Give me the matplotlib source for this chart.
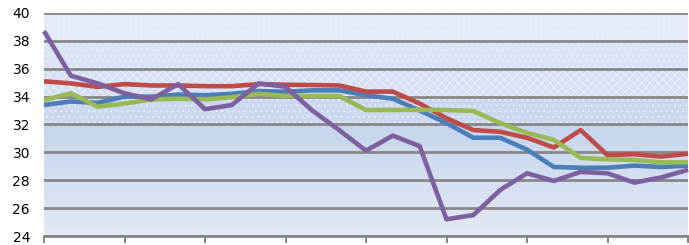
import matplotlib
matplotlib.use("Agg")
import matplotlib.pyplot as plt
import numpy as np

x = list(range(25))
blue = [33.4, 33.65, 33.55, 34.0, 34.0, 34.15, 34.1, 34.2, 34.4, 34.35, 34.45, 34.45, 34.1,
        33.85, 33.0, 32.1, 31.05, 31.05, 30.2, 28.95, 28.9, 28.9, 29.05, 28.95, 29.05]
red = [35.1, 34.95, 34.7, 34.9, 34.8, 34.8, 34.75, 34.75, 34.9, 34.85, 34.83, 34.8, 34.36,
       34.36, 33.5, 32.45, 31.6, 31.48, 31.05, 30.35, 31.6, 29.8, 29.87, 29.7, 29.9]
green = [33.75, 34.24, 33.28, 33.5, 33.8, 33.85, 33.8, 33.95, 34.2, 34.05, 34.05, 34.05, 33.04,
         33.04, 33.05, 33.04, 32.97, 32.1, 31.4, 30.9, 29.6, 29.5, 29.46, 29.29, 29.29]
purple = [38.7, 35.5, 34.95, 34.24, 33.8, 34.9, 33.1, 33.4, 34.95, 34.7, 33.0, 31.6, 30.12,
          31.2, 30.45, 25.2, 25.5, 27.3, 28.5, 27.95, 28.6, 28.5, 27.83, 28.2, 28.75]
yticks = [24, 26, 28, 30, 32, 34, 36, 38, 40]
xticks = [0, 3, 6, 9, 12, 15, 18, 21, 24]

plt.rcParams['hatch.linewidth'] = 0.7
fig = plt.figure(figsize=(6.89, 2.45), dpi=100)
ax = fig.add_axes([44/689, 9/245, 644/689, 223/245])
ax.set_xlim(0, 24)
ax.set_ylim(24, 40)

# gradient lower region
grad = np.linspace(0, 1, 100).reshape(-1, 1)
c_bot = np.array([0.89, 0.915, 0.96])
c_top = np.array([0.775, 0.835, 0.93])
img = c_bot + grad[..., None] * (c_top - c_bot)
ax.imshow(img, extent=[0, 24, 24, 32], origin='lower', aspect='auto', zorder=0)

bands = [(32, 34, '#cbd7ef', '...'), (34, 36, '#d4def2', 'xxxx'),
         (36, 38, '#dbe4f5', '...'), (38, 40, '#e2e9f7', '+++')]
for lo, hi, fc, h in bands:
    ax.axhspan(lo, hi, facecolor=fc, edgecolor='none', zorder=0.1)
    ax.axhspan(lo, hi, facecolor='none', edgecolor='#e9eef9', hatch=h, lw=0, zorder=0.2)

ax.set_yticks(yticks)
ax.set_xticks(xticks)
ax.yaxis.grid(True, color='#878787', lw=2.0, zorder=1)
ax.set_axisbelow(False)
ax.tick_params(axis='y', length=0, pad=10, labelsize=10, labelcolor='black')
ax.tick_params(axis='x', length=5, width=1.5, color='#878787', labelbottom=False, direction='out')
for s in ['top', 'right', 'left']:
    ax.spines[s].set_visible(False)
ax.spines['bottom'].set_color('#878787')
ax.spines['bottom'].set_linewidth(2.0)

for data, col in [(blue, '#4a7ebb'), (red, '#be4b48'), (green, '#98b954'), (purple, '#7d60a0')]:
    ax.plot(x, data, color=col, lw=3.3, solid_joinstyle='round', solid_capstyle='butt',
            zorder=3, clip_on=False)

fig.savefig('out.png', dpi=100)
